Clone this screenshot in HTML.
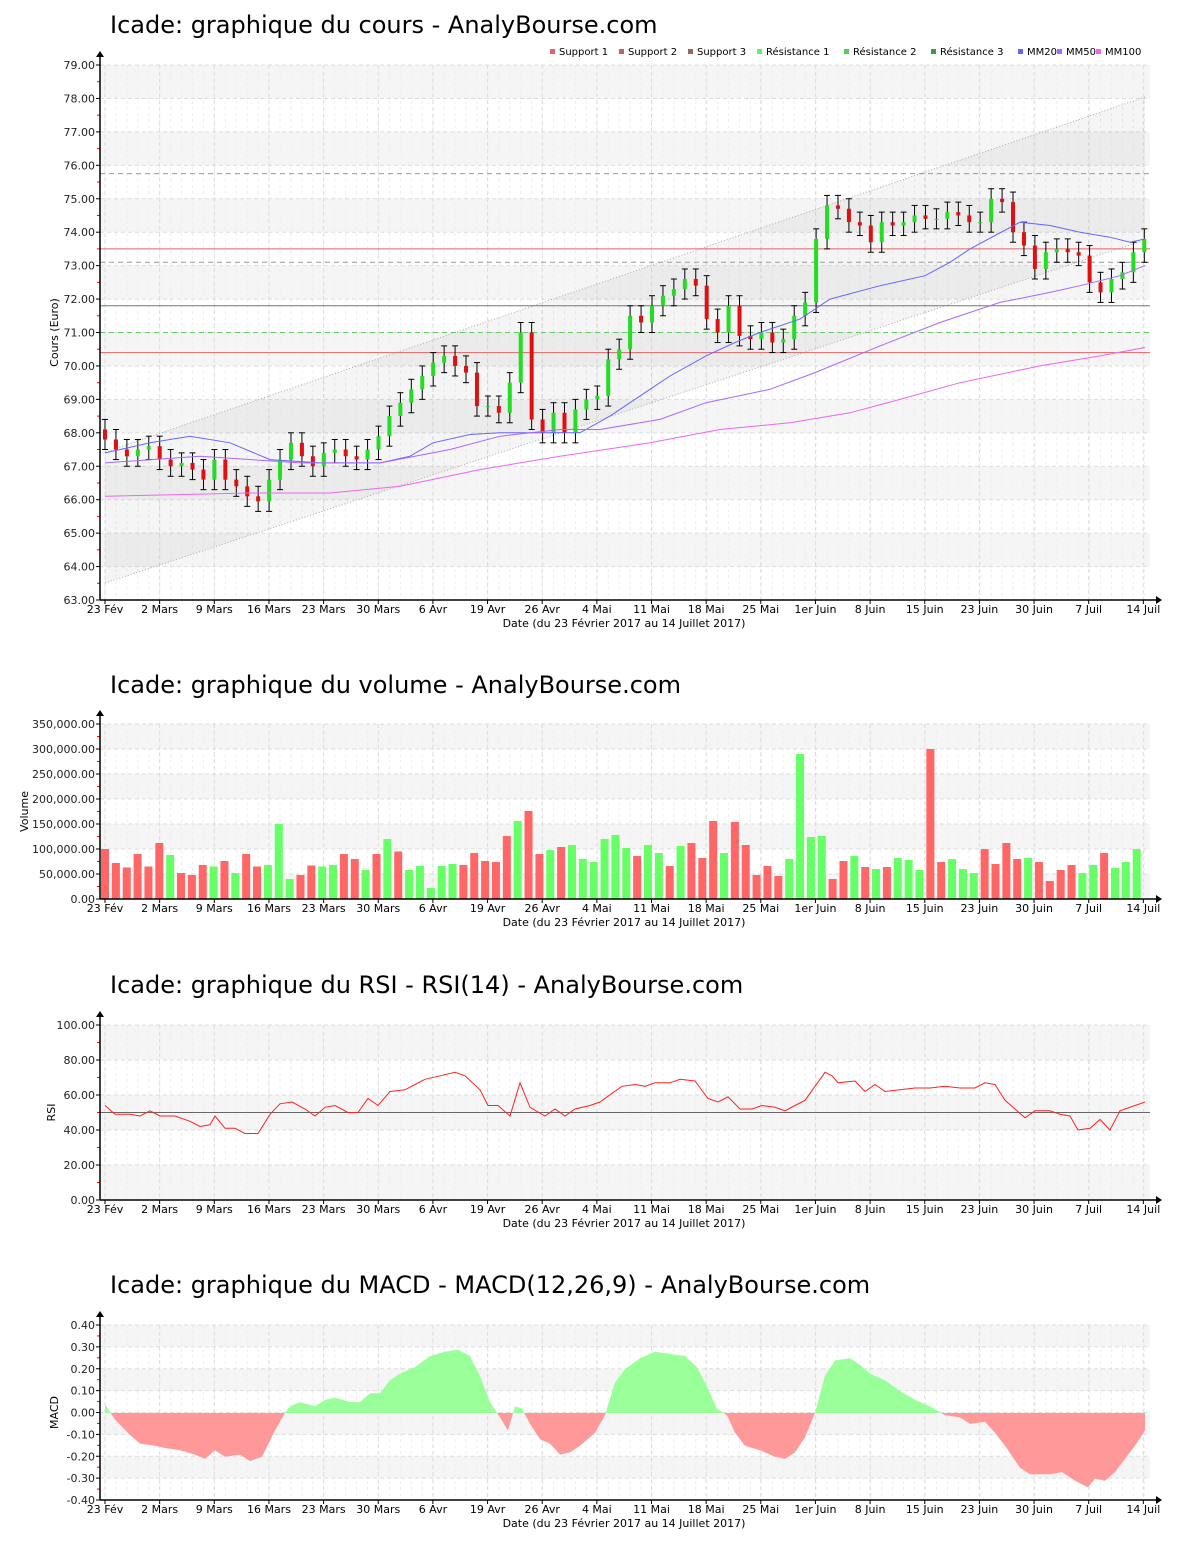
<!DOCTYPE html>
<html><head><meta charset="utf-8">
<style>
body{margin:0;background:#fff;}
svg{display:block;font-family:"DejaVu Sans","Liberation Sans",sans-serif;}
</style></head>
<body>
<svg id="s" width="1200" height="1550" xmlns="http://www.w3.org/2000/svg"></svg>
<script>
const S=document.getElementById('s');let h='';
const X0=105,DX=10.94,L=100,R=1150;
const ticks=["23 Fév","2 Mars","9 Mars","16 Mars","23 Mars","30 Mars","6 Avr","19 Avr","26 Avr","4 Mai","11 Mai","18 Mai","25 Mai","1er Juin","8 Juin","15 Juin","23 Juin","30 Juin","7 Juil","14 Juil"];
const tx=i=>105+i*54.65;
function frame(top,bot,n,labFn,title,ylab,titleY){
  h+=`<text x="110" y="${titleY}" font-size="24" fill="#000">${title}</text>`;
  const st=(bot-top)/n;
  for(let k=0;k<n;k++){const y=top+k*st;if(k%2==0)h+=`<rect x="${L}" y="${y}" width="${R-L}" height="${st}" fill="#f5f5f5"/>`;}
  for(let i=0;i<96;i++){const x=X0+i*DX;h+=`<line x1="${x}" y1="${top}" x2="${x}" y2="${bot}" stroke="#eee" stroke-dasharray="3,3"/>`;}
  for(let i=0;i<20;i++)h+=`<line x1="${tx(i)}" y1="${top}" x2="${tx(i)}" y2="${bot}" stroke="#ddd" stroke-dasharray="4,3"/>`;
  for(let k=0;k<=n;k++){const y=top+k*st;h+=`<line x1="${L}" y1="${y}" x2="${R}" y2="${y}" stroke="#ddd" stroke-dasharray="4,3"/><line x1="${L-4}" y1="${y}" x2="${L}" y2="${y}" stroke="#000"/><text x="${L-5}" y="${y+4}" font-size="11" text-anchor="end" fill="#222">${labFn(k)}</text>`;
    if(k<n)h+=`<line x1="${L-3}" y1="${y+st/2}" x2="${L}" y2="${y+st/2}" stroke="red"/>`;}
  h+=`<text transform="translate(${ylab[1]},${(top+bot)/2}) rotate(-90)" font-size="11" text-anchor="middle">${ylab[0]}</text>`;
}
function axes(top,bot){
  h+=`<line x1="${L}" y1="${top-12}" x2="${L}" y2="${bot}" stroke="#000" stroke-width="1.5"/><path d="M${L-4},${top-8} L${L},${top-14} L${L+4},${top-8}Z"/>`;
  h+=`<line x1="${L}" y1="${bot}" x2="${R+10}" y2="${bot}" stroke="#000" stroke-width="1.5"/><path d="M${R+6},${bot-4} L${R+12},${bot} L${R+6},${bot+4}Z"/>`;
  for(let i=0;i<20;i++)h+=`<line x1="${tx(i)}" y1="${bot}" x2="${tx(i)}" y2="${bot+4}" stroke="#000"/><text x="${tx(i)}" y="${bot+13}" font-size="11" text-anchor="middle">${ticks[i]}</text>`;
  h+=`<text x="624" y="${bot+27}" font-size="11" text-anchor="middle">Date (du 23 Février 2017 au 14 Juillet 2017)</text>`;
}
function poly(pts,fy,col,w){return `<polyline fill="none" stroke="${col}" stroke-width="${w||1}" points="${pts.map(p=>p[0]+','+fy(p[1]).toFixed(1)).join(' ')}"/>`;}
// ---------- Chart 1
const py=v=>65+(79-v)*33.4375;
frame(65,600,16,k=>(79-k).toFixed(2),"Icade: graphique du cours - AnalyBourse.com",["Cours (Euro)",58],33);
h+=`<polygon points="105,${452} 1145,97 1145,240 105,583" fill="#000" fill-opacity="0.04"/>`;
h+=`<line x1="105" y1="452" x2="1145" y2="97" stroke="#aaa" stroke-dasharray="1,2"/><line x1="105" y1="583" x2="1145" y2="240" stroke="#aaa" stroke-dasharray="1,2"/>`;
[[75.75,'#999','5,4'],[73.1,'#999','5,4'],[71.0,'#6c6','5,4']].forEach(a=>h+=`<line x1="${L}" y1="${py(a[0])}" x2="${R}" y2="${py(a[0])}" stroke="${a[1]}" stroke-dasharray="${a[2]}"/>`);
h+=`<line x1="${L}" y1="${py(73.5)}" x2="${R}" y2="${py(73.5)}" stroke="#d66"/><line x1="${L}" y1="${py(70.4)}" x2="${R}" y2="${py(70.4)}" stroke="#d66"/><line x1="${L}" y1="${py(71.8)}" x2="${R}" y2="${py(71.8)}" stroke="#777"/>`;
const C=[68.1,67.8,67.5,67.3,67.5,67.6,67.2,67.0,67.1,66.9,66.6,67.2,66.6,66.4,66.1,65.95,66.6,67.2,67.7,67.3,67.0,67.4,67.5,67.3,67.2,67.5,67.9,68.5,68.9,69.3,69.7,70.1,70.3,70.0,69.8,68.8,68.8,68.6,69.5,71.0,68.4,68.0,68.6,68.0,68.7,69.0,69.1,70.2,70.5,71.5,71.3,71.8,72.1,72.3,72.6,72.4,71.4,71.0,71.8,70.9,70.8,71.0,70.7,70.8,71.5,71.9,73.8,74.8,74.7,74.3,74.2,73.7,74.3,74.2,74.3,74.5,74.4,74.4,74.6,74.5,74.3,74.3,75.0,74.9,74.0,73.6,72.9,73.4,73.5,73.4,73.3,72.5,72.2,72.6,72.8,73.4,73.8];
const N=C.length-1;
for(let i=0;i<N;i++){const o=C[i],c=C[i+1],x=X0+i*DX;const hi=Math.max(o,c)+0.3,lo=Math.min(o,c)-0.3;
 const col=c>=o?'#22dd22':'#dd1111';
 h+=`<line x1="${x}" y1="${py(hi)}" x2="${x}" y2="${py(lo)}" stroke="#000"/><line x1="${x-3}" y1="${py(hi)}" x2="${x+3}" y2="${py(hi)}" stroke="#000"/><line x1="${x-3}" y1="${py(lo)}" x2="${x+3}" y2="${py(lo)}" stroke="#000"/>`;
 h+=`<rect x="${x-2}" y="${py(Math.max(o,c))}" width="4" height="${Math.max(1,Math.abs(o-c)*33.44)}" fill="${col}"/>`;}
h+=poly([[105,67.4],[150,67.7],[190,67.9],[230,67.7],[270,67.2],[320,67.1],[380,67.1],[410,67.3],[433,67.7],[470,67.95],[500,68.0],[540,68.0],[580,68.0],[610,68.5],[630,68.9],[650,69.3],[670,69.7],[706,70.3],[735,70.7],[760,71.0],[800,71.4],[830,72.0],[880,72.4],[925,72.7],[950,73.1],[970,73.5],[995,73.9],[1020,74.3],[1050,74.2],[1080,74.0],[1110,73.85],[1130,73.7],[1145,73.8]],py,'#66f');
h+=poly([[105,67.1],[200,67.3],[300,67.1],[380,67.1],[450,67.5],[500,67.9],[560,68.1],[600,68.1],[660,68.4],[706,68.9],[770,69.3],[815,69.8],[880,70.6],[940,71.3],[1000,71.9],[1050,72.2],[1080,72.4],[1120,72.7],[1145,73.0]],py,'#a6f');
h+=poly([[105,66.1],[250,66.2],[330,66.2],[400,66.4],[480,66.9],[560,67.3],[650,67.7],[720,68.1],[790,68.3],[850,68.6],[900,69.0],[960,69.5],[1040,70.0],[1100,70.3],[1145,70.55]],py,'#e6e');
axes(65,600);
const leg=[["Support 1","#d66"],["Support 2","#b66"],["Support 3","#966"],["Résistance 1","#6e6"],["Résistance 2","#5c5"],["Résistance 3","#494"],["MM20","#66f"],["MM50","#a6f"],["MM100","#e6e"]];
let lx=550;leg.forEach(a=>{h+=`<rect x="${lx}" y="49" width="5" height="5" fill="${a[1]}"/><text x="${lx+9}" y="55" font-size="10">${a[0]}</text>`;lx+=9+a[0].length*6.0+6;});
// ---------- Chart 2
const vy=v=>899-v*0.5/1000;
frame(724,899,7,k=>((350-k*50)*1000).toLocaleString('en-US')+'.00',"Icade: graphique du volume - AnalyBourse.com",["Volume",28],693);
const V="100R 72R 63R 90R 65R 112R 88G 52R 48R 68R 65G 76R 52G 90R 65R 68G 150G 40G 48R 67R 65G 68G 90R 80R 58G 90R 120G 95R 58G 66G 22G 66G 70G 68R 92R 76R 74R 126R 156G 176R 90R 98G 104R 108G 80G 74G 120G 128G 102G 86R 108G 92G 66R 106G 112R 82R 156R 92G 154R 108R 48R 66R 46R 80G 290G 124G 126G 40R 76R 86G 64R 60G 64R 82G 78G 58G 300R 74R 80G 60G 52G 100R 70R 112R 80R 82G 74R 36R 58R 68R 52G 68G 92R 62G 74G 100G".split(' ');
V.forEach((s,i)=>{const v=parseFloat(s)*1000,x=101+i*10.86;h+=`<rect x="${x}" y="${vy(v)}" width="8" height="${899-vy(v)}" fill="${s.endsWith('G')?'#66ff66':'#ff6666'}"/>`;});
axes(724,899);
// ---------- Chart 3
const ry=v=>1200-v*1.75;
frame(1025,1200,5,k=>(100-k*20).toFixed(2),"Icade: graphique du RSI - RSI(14) - AnalyBourse.com",["RSI",55],993);
h+=`<line x1="${L}" y1="${ry(50)}" x2="${R}" y2="${ry(50)}" stroke="#666"/>`;
const RS=[[105,54],[115,49],[130,49],[140,48],[150,51],[160,48],[175,48],[190,45],[200,42],[210,43],[215,48],[225,41],[235,41],[245,38],[258,38],[270,49],[280,55],[292,56],[305,52],[315,48],[325,53],[335,54],[348,50],[358,50],[368,58],[378,54],[390,62],[405,63],[415,66],[425,69],[440,71],[455,73],[465,71],[480,63],[488,54],[498,54],[510,48],[520,67],[530,53],[545,48],[555,52],[565,48],[575,52],[590,54],[600,56],[612,61],[622,65],[635,66],[645,65],[655,67],[670,67],[680,69],[695,68],[708,58],[718,56],[728,59],[740,52],[752,52],[762,54],[775,53],[785,51],[795,54],[805,57],[815,65],[825,73],[832,71],[838,67],[855,68],[865,62],[875,66],[885,62],[900,63],[915,64],[930,64],[945,65],[960,64],[975,64],[985,67],[995,66],[1005,57],[1015,52],[1025,47],[1035,51],[1050,51],[1060,49],[1070,48],[1078,40],[1090,41],[1100,46],[1110,40],[1120,51],[1135,54],[1145,56]];
h+=poly(RS,ry,'#f22');
axes(1025,1200);
// ---------- Chart 4
const my=v=>1413-v*218.75;
frame(1325,1500,8,k=>(0.4-k*0.1).toFixed(2).replace('-0.00','0.00'),"Icade: graphique du MACD - MACD(12,26,9) - AnalyBourse.com",["MACD",58],1293);
const M=[[105,0.04],[115,-0.03],[130,-0.10],[140,-0.14],[155,-0.15],[165,-0.16],[180,-0.17],[195,-0.19],[205,-0.21],[215,-0.17],[225,-0.20],[240,-0.19],[250,-0.22],[262,-0.20],[275,-0.08],[285,0],[290,0.03],[300,0.05],[315,0.03],[325,0.06],[335,0.07],[350,0.05],[360,0.05],[370,0.09],[380,0.09],[390,0.15],[400,0.18],[415,0.21],[430,0.26],[445,0.28],[458,0.29],[470,0.26],[480,0.17],[490,0.05],[500,-0.02],[508,-0.08],[515,0.03],[522,0.02],[530,-0.05],[540,-0.12],[550,-0.14],[560,-0.19],[570,-0.18],[580,-0.15],[595,-0.09],[605,-0.01],[615,0.14],[625,0.20],[640,0.25],[655,0.28],[670,0.27],[685,0.26],[697,0.21],[707,0.12],[717,0.02],[727,-0.01],[735,-0.09],[745,-0.15],[760,-0.17],[775,-0.20],[785,-0.21],[795,-0.18],[805,-0.11],[815,0],[825,0.17],[835,0.24],[850,0.25],[860,0.22],[870,0.18],[885,0.15],[900,0.10],[915,0.06],[930,0.03],[945,-0.01],[960,-0.02],[970,-0.05],[985,-0.04],[995,-0.09],[1005,-0.15],[1020,-0.25],[1030,-0.28],[1050,-0.28],[1062,-0.27],[1075,-0.31],[1088,-0.34],[1095,-0.30],[1105,-0.31],[1115,-0.27],[1125,-0.21],[1135,-0.15],[1145,-0.08]];
const pp='105,1413 '+M.map(p=>p[0]+','+my(p[1]).toFixed(1)).join(' ')+' 1145,1413';
h+=`<defs><clipPath id="cu"><rect x="0" y="0" width="1200" height="1413"/></clipPath><clipPath id="cd"><rect x="0" y="1413" width="1200" height="200"/></clipPath></defs>`;
h+=`<polygon points="${pp}" fill="#99ff99" clip-path="url(#cu)"/><polygon points="${pp}" fill="#ff9999" clip-path="url(#cd)"/>`;
axes(1325,1500);
S.innerHTML=h;
</script>
</body></html>
